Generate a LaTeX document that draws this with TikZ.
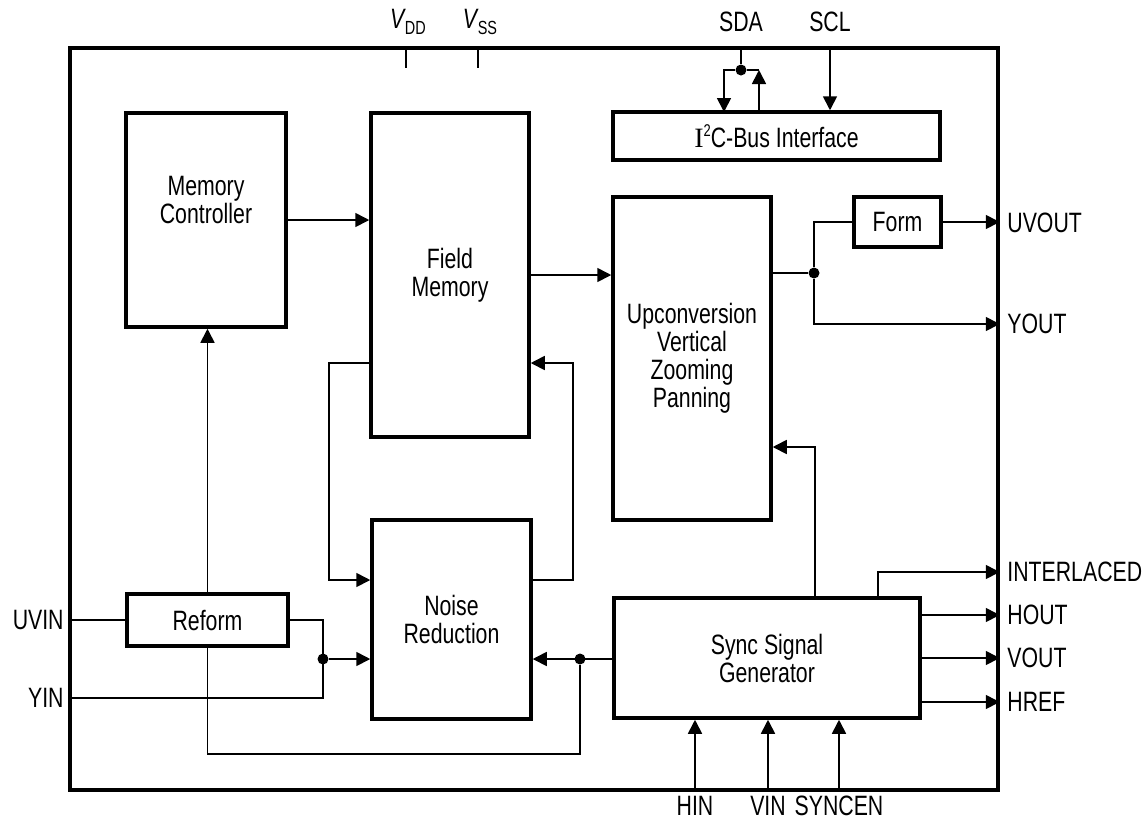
\documentclass[tikz,border=0pt]{standalone}
\usepackage{fontspec}
\setmainfont{Liberation Sans}[FakeStretch=0.76]
\newfontfamily\serifI{Liberation Serif}
\usetikzlibrary{arrows.meta}

\begin{document}
\begin{tikzpicture}[
  x=0.5pt, y=-0.5pt,
  font=\fontsize{14}{14}\selectfont,
  blk/.style    ={draw, line width=1.75pt, align=center, inner sep=1pt},
  chipbox/.style={draw, line width=1.75pt, minimum width=464pt,
                  minimum height=371pt},
  wire/.style   ={line width=0.85pt},
  arr/.style    ={wire, -{Triangle[length=7pt, width=7pt]}},
  dot/.style    ={circle, fill, inner sep=0pt, minimum size=5.5pt},
  outlbl/.style ={anchor=west, inner sep=0pt},
  inlbl/.style  ={anchor=east, inner sep=0pt},
]
\useasboundingbox (0,0) rectangle (1148,821);

\node[chipbox] (chip) at (534,419) {};

\node[blk, minimum width=80pt, minimum height=107pt] (mc) at (206,220) {};
\node[align=center] (mctext) at (206,200) {Memory\\Controller};
\node[blk, minimum width=79pt, minimum height=162pt] (fm) at (450,275)
  {Field\\Memory};
\node[blk, minimum width=163.5pt, minimum height=24pt] (i2c) at (776.5,136)
  {{\serifI I}\raisebox{5.5pt}{\fontsize{8.5}{8}\selectfont 2}C-Bus Interface};
\node[blk, minimum width=79pt, minimum height=161.5pt] (up) at (692,358.5)
  {Upconversion\\Vertical\\Zooming\\Panning};
\node[blk, minimum width=43.5pt, minimum height=25pt] (form) at (897.5,222)
  {Form};
\node[blk, minimum width=79.5pt, minimum height=99.5pt] (nr) at (451.5,619.5)
  {Noise\\Reduction};
\node[blk, minimum width=80.5pt, minimum height=26pt] (rf) at (207.5,620)
  {Reform};
\node[blk, minimum width=153pt, minimum height=60pt] (sync) at (767,658)
  {Sync Signal\\Generator};

% junctions and bends
\node[dot] (jo)   at (814,273) {};
\node[dot] (jy)   at (323,659) {};
\node[dot] (js)   at (580,659) {};
\node[dot] (jsda) at (741,70)  {};
\coordinate (sdain)  at (724,112);
\coordinate (sdaout) at (759,112);
\coordinate (fml)    at (329,363);
\coordinate (fmr)    at (573,363);
\coordinate (nrhi)   at (451.5,580);
\coordinate (lowbus) at (400,754);
\coordinate (upin)   at (815,447);
\coordinate (ilx)    at (878,572);

% pins, top
\node (vdd) at (408,22)
  {\textit{V}\kern-0.5pt\raisebox{-3pt}{\fontsize{9.5}{9}\selectfont DD}};
\node (vss) at (480,22)
  {\textit{V}\kern-0.5pt\raisebox{-3pt}{\fontsize{9.5}{9}\selectfont SS}};
\node (sda) at (741,22) {SDA};
\node (scl) at (830,22) {SCL};
\draw[wire] (406,0 |- chip.north) -- ++(0,22);
\draw[wire] (478,0 |- chip.north) -- ++(0,22);
\draw[wire] (sda |- chip.north) -- (jsda);
\draw[arr] (jsda) -| (sdain);
\draw[wire] (jsda) -- (jsda -| sdaout);
\draw[arr] (sdaout) -- (sdaout |- jsda);
\draw[arr] (scl |- chip.north) -- (scl |- i2c.north);

% pins, left
\node[inlbl] (uvin) at (64,620) {UVIN};
\node[inlbl] (yin)  at (64,698) {YIN};

% pins, right
\node[outlbl] (uvout) at (1007,223) {UVOUT};
\node[outlbl] (yout)  at (1007,324) {YOUT};
\foreach \y/\n/\t in {572/il/INTERLACED, 615/hout/HOUT, 658/vout/VOUT, 702/href/HREF}
  \node[outlbl] (\n) at (1007,\y) {\t};

% pins, bottom
\foreach \x/\n/\t in {695/hin/HIN, 768/vin/VIN, 839/syncen/SYNCEN} {
  \node (\n) at (\x,806) {\t};
  \draw[arr] (\n |- chip.south) -- (\n |- sync.south);
}

% data path
\draw[arr] (mc.east) -- (mc.east -| fm.west);
\draw[arr] (fm.east) -- (fm.east -| up.west);
\draw[wire] (up.east |- jo) -- (jo);
\draw[wire] (jo) |- (form.west);
\draw[arr] (form.east) -- (form.east -| chip.east);
\draw[arr] (jo) |- (yout.west -| chip.east);

\draw[arr] (fm.west |- fml) -| (fml |- nrhi) -- (nr.west |- nrhi);
\draw[arr] (nr.east |- nrhi) -| (fmr) -- (fm.east |- fmr);

\draw[arr] (rf.north) -- (rf.north |- mc.south);
\draw[wire] (rf.west -| chip.west) -- (rf.west);
\draw[wire] (rf.east) -| (jy |- yin) -- (yin -| chip.west);
\draw[arr] (jy) -- (nr.west |- jy);
\draw[arr] (sync.west |- js) -- (nr.east |- js);
\draw[wire] (rf.south) |- (js |- lowbus) -- (js);

% sync outputs
\draw[arr] (sync.north -| upin) |- (up.east |- upin);
\draw[arr] (sync.north -| ilx) |- (il.west -| chip.east);
\foreach \n in {hout,vout,href}
  \draw[arr] (sync.east |- \n) -- (chip.east |- \n);
\end{tikzpicture}
\end{document}
